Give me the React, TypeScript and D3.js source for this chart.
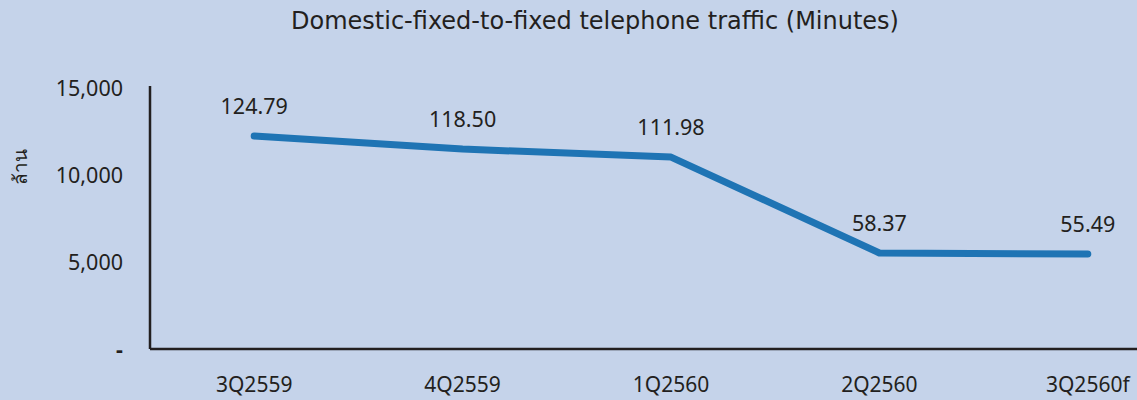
import { useEffect, useRef } from "react";
import * as d3 from "d3";

const categories = ["3Q2559", "4Q2559", "1Q2560", "2Q2560", "3Q2560f"];
const minutes = [12240, 11490, 11030, 5520, 5460];
const pointLabels = ["124.79", "118.50", "111.98", "58.37", "55.49"];
const yTicks = [0, 5000, 10000, 15000];

const W = 1137;
const H = 400;
const BG = "#c5d3ea";
const LINE = "#1f74b4";
const INK = "#231f20";
const TITLE_FONT = "'DejaVu Sans', sans-serif";
const FONT = "'Noto Sans', 'DejaVu Sans', sans-serif";

export default function App() {
  const svgRef = useRef<SVGSVGElement | null>(null);

  useEffect(() => {
    if (!svgRef.current) return;
    const svg = d3.select(svgRef.current);
    svg.selectAll("*").remove();

    const margin = { top: 88, right: -55, bottom: 51, left: 150 };
    const innerW = W - margin.left - margin.right;
    const innerH = H - margin.top - margin.bottom;

    const x = d3.scaleBand<string>().domain(categories).range([0, innerW]);
    const cx = (c: string) => (x(c) ?? 0) + x.bandwidth() / 2;
    const y = d3.scaleLinear().domain([0, 15000]).range([innerH, 0]);

    svg.append("rect").attr("width", W).attr("height", H).attr("fill", BG);

    svg
      .append("text")
      .attr("x", 595)
      .attr("y", 29)
      .attr("text-anchor", "middle")
      .attr("font-family", TITLE_FONT)
      .attr("font-size", 24)
      .attr("fill", INK)
      .text("Domestic-fixed-to-fixed telephone traffic (Minutes)");

    svg
      .append("text")
      .attr("transform", "translate(27,167) rotate(-90)")
      .attr("text-anchor", "middle")
      .attr("font-family", TITLE_FONT)
      .attr("font-size", 19)
      .attr("fill", INK)
      .text("ล้าน");

    const g = svg.append("g").attr("transform", `translate(${margin.left},${margin.top})`);

    // y tick labels, "-" for zero like the Excel accounting format
    g.append("g")
      .selectAll("text")
      .data(yTicks)
      .enter()
      .append("text")
      .attr("x", -27)
      .attr("y", (d) => y(d))
      .attr("dy", "0.36em")
      .attr("text-anchor", "end")
      .attr("font-family", FONT)
      .attr("font-size", 21.5)
      .attr("font-weight", (d) => (d === 0 ? "bold" : "normal"))
      .attr("fill", INK)
      .text((d) => (d === 0 ? "-" : d3.format(",")(d)));

    g.append("line")
      .attr("x1", 0)
      .attr("x2", 0)
      .attr("y1", -2)
      .attr("y2", innerH)
      .attr("stroke", INK)
      .attr("stroke-width", 2.5);
    g.append("line")
      .attr("x1", 0)
      .attr("x2", W)
      .attr("y1", innerH)
      .attr("y2", innerH)
      .attr("stroke", INK)
      .attr("stroke-width", 2.5);

    g.append("g")
      .selectAll("text")
      .data(categories)
      .enter()
      .append("text")
      .attr("x", (d) => cx(d))
      .attr("y", innerH + 43)
      .attr("text-anchor", "middle")
      .attr("font-family", FONT)
      .attr("font-size", 21)
      .attr("fill", INK)
      .text((d) => d);

    const line = d3
      .line<number>()
      .x((_, i) => cx(categories[i]))
      .y((d) => y(d));

    g.append("path")
      .datum(minutes)
      .attr("fill", "none")
      .attr("stroke", LINE)
      .attr("stroke-width", 7)
      .attr("stroke-linecap", "round")
      .attr("stroke-linejoin", "round")
      .attr("d", line);

    g.append("g")
      .selectAll("text")
      .data(minutes)
      .enter()
      .append("text")
      .attr("x", (_, i) => cx(categories[i]))
      .attr("y", (d) => y(d) - 22)
      .attr("text-anchor", "middle")
      .attr("font-family", FONT)
      .attr("font-size", 21.5)
      .attr("fill", INK)
      .text((_, i) => pointLabels[i]);
  }, []);

  return (
    <div style={{ position: "fixed", left: 0, top: 0, width: W, height: H }}>
      <svg ref={svgRef} width={W} height={H} style={{ display: "block" }} />
    </div>
  );
}
